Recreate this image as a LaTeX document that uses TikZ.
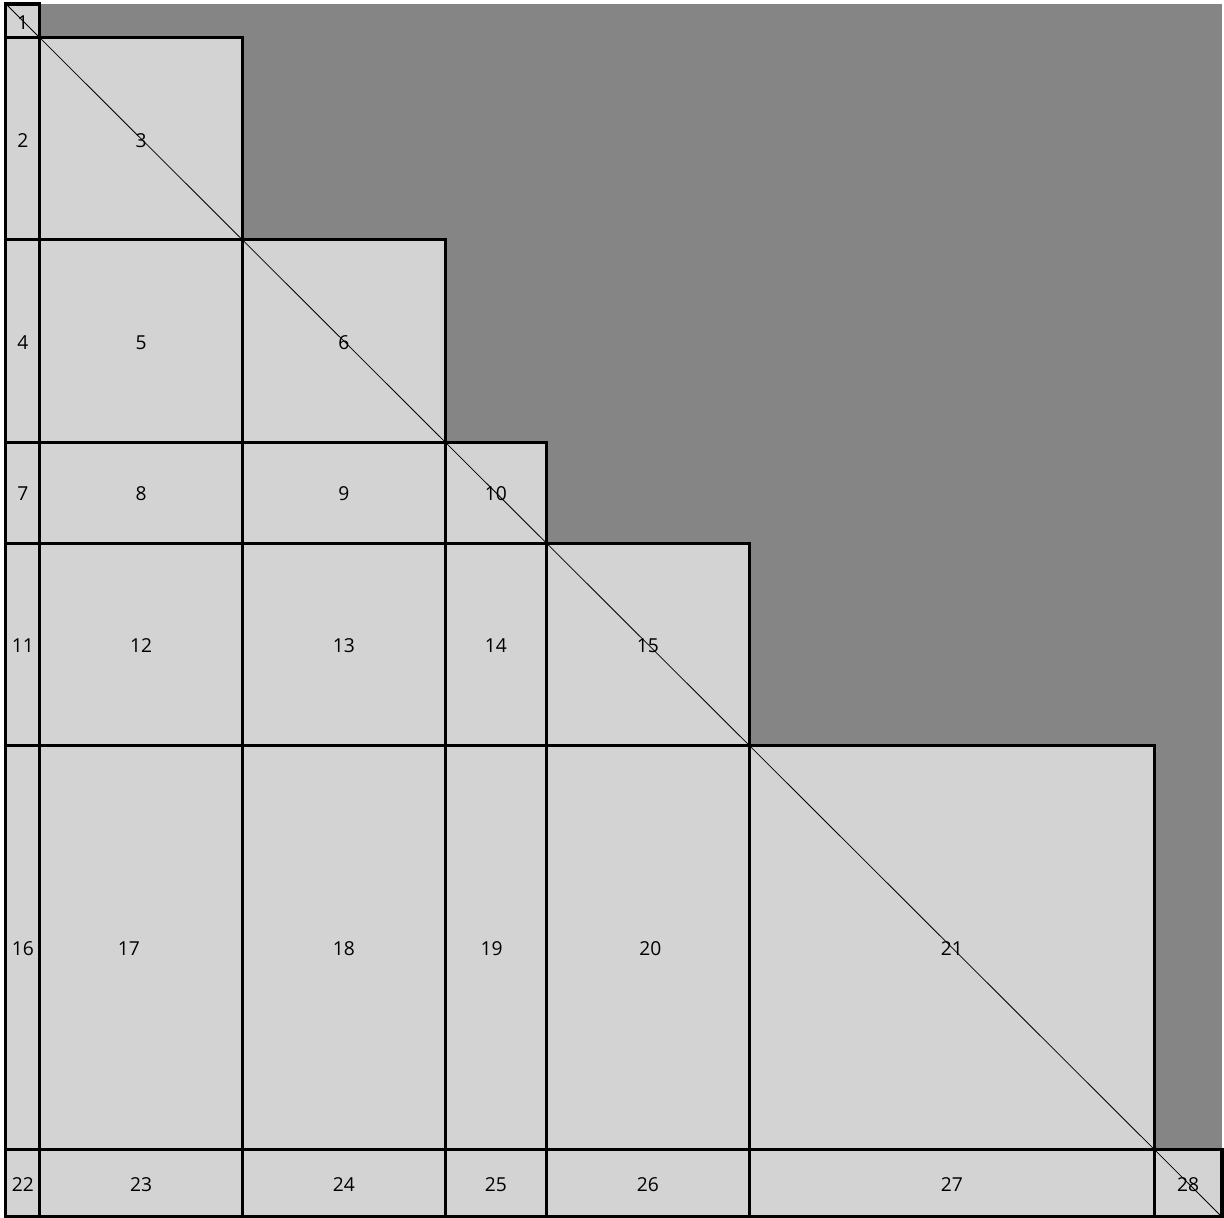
\documentclass[tikz,border=0pt]{standalone}
\usepackage{fontspec}
\setmainfont{Open Sans}
\usepackage{xcolor}
\usetikzlibrary{fit}

\definecolor{uppergray}{HTML}{858585}
\definecolor{blockgray}{HTML}{D3D3D3}

\begin{document}
\begin{tikzpicture}[
    x=2cm, y=-1.995cm,
    every node/.style={font=\fontsize{10.8}{12}\selectfont},
    block/.style={
        draw,
        line width=1.7pt,
        fill=blockgray,
        inner sep=0pt
    },
    num/.style={inner sep=0pt, yshift=-0.03cm},
    diag/.style={line width=0.45pt}
]

% block boundaries (in block units) and label shifts
\def\bnd{{0,0.33333,2.33333,4.33333,5.33333,7.33333,11.33333,12}}
\def\lshift{{0,0,0,0,0,0,0,0,0,0,0,0,0,0,0,0,-0.24,0,-0.08,0.05,0,0,0,0,0,0,0,0}}

\useasboundingbox (-0.059,-0.0396) rectangle (12.0197,12.0099);

\fill[uppergray] (0,0) rectangle (12,12);

\foreach \i in {1,...,7} {
  \foreach \j in {1,...,\i} {
    \pgfmathtruncatemacro\n{\i*(\i-1)/2+\j}
    \pgfmathsetmacro\xa{\bnd[\j-1]}
    \pgfmathsetmacro\xb{\bnd[\j]}
    \pgfmathsetmacro\ya{\bnd[\i-1]}
    \pgfmathsetmacro\yb{\bnd[\i]}
    \node[block, fit={(\xa,\ya)(\xb,\yb)}] (b\n) {};
  }
}

\draw[diag] (b1.north west) -- (b28.south east);

\foreach \n in {1,...,28} {
  \pgfmathsetmacro\dx{\lshift[\n-1]}
  \node[num, xshift=\dx cm] (l\n) at (b\n.center) {\n};
}

\end{tikzpicture}
\end{document}
